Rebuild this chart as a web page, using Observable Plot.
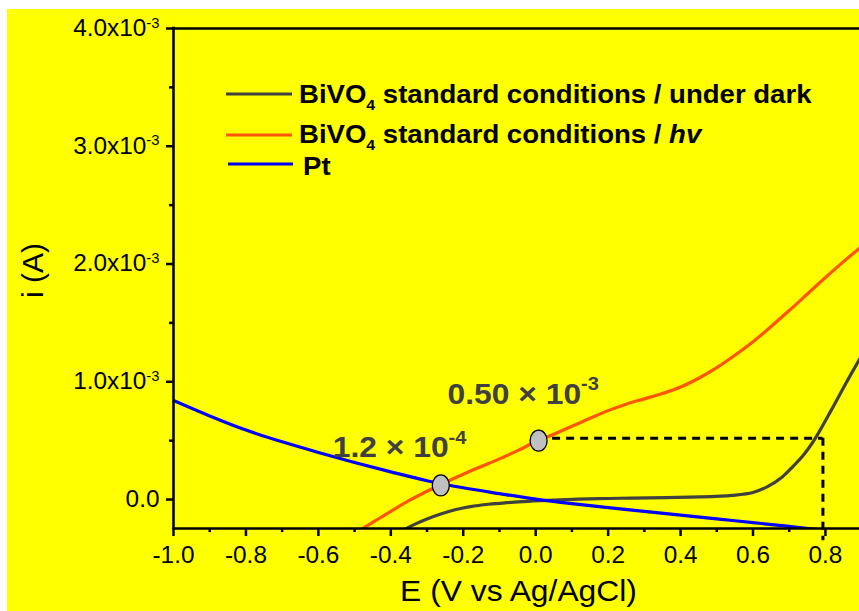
<!DOCTYPE html>
<html>
<head>
<meta charset="utf-8">
<script src="https://cdn.jsdelivr.net/npm/d3@7"></script>
<script src="https://cdn.jsdelivr.net/npm/@observablehq/plot@0.6"></script>
<style>
  html, body { margin: 0; padding: 0; background: #fff; }
  #chart { position: absolute; left: 7px; top: 9px; }
</style>
</head>
<body>
<div id="chart"></div>
<script>
// Linear sweep voltammograms: potential E (V vs Ag/AgCl) and current i (A)
const darkE = [-0.39, -0.366, -0.33, -0.30, -0.26, -0.22, -0.18, -0.13, -0.08, -0.02, 0.05, 0.176, 0.267, 0.361, 0.452, 0.543, 0.600, 0.640, 0.680, 0.710, 0.740, 0.774, 0.818, 0.857, 0.894];
const darkI = [-0.30e-3, -0.26e-3, -0.205e-3, -0.165e-3, -0.12e-3, -0.085e-3, -0.06e-3, -0.04e-3, -0.027e-3, -0.015e-3, -0.005e-3, 0.008e-3, 0.012e-3, 0.017e-3, 0.022e-3, 0.036e-3, 0.060e-3, 0.11e-3, 0.19e-3, 0.28e-3, 0.38e-3, 0.53e-3, 0.77e-3, 0.99e-3, 1.19e-3];

const hvE = [-0.52, -0.485, -0.44, -0.40, -0.35, -0.30, -0.25, -0.20, -0.15, -0.10, -0.05, 0.0, 0.05, 0.10, 0.15, 0.20, 0.25, 0.30, 0.35, 0.40, 0.45, 0.50, 0.55, 0.60, 0.65, 0.70, 0.75, 0.80, 0.85, 0.894];
const hvI = [-0.33e-3, -0.26e-3, -0.175e-3, -0.10e-3, -0.01e-3, 0.07e-3, 0.145e-3, 0.215e-3, 0.28e-3, 0.345e-3, 0.415e-3, 0.49e-3, 0.555e-3, 0.622e-3, 0.69e-3, 0.755e-3, 0.81e-3, 0.855e-3, 0.90e-3, 0.955e-3, 1.03e-3, 1.12e-3, 1.225e-3, 1.34e-3, 1.47e-3, 1.605e-3, 1.745e-3, 1.885e-3, 2.02e-3, 2.135e-3];

const ptE = [-1.0, -0.9, -0.8, -0.7, -0.6, -0.5, -0.4, -0.3, -0.2, -0.1, 0.0, 0.1, 0.2, 0.3, 0.4, 0.5, 0.6, 0.7, 0.8];
const ptI = [0.841e-3, 0.71e-3, 0.59e-3, 0.49e-3, 0.40e-3, 0.315e-3, 0.235e-3, 0.16e-3, 0.10e-3, 0.05e-3, 0.003e-3, -0.035e-3, -0.068e-3, -0.10e-3, -0.132e-3, -0.164e-3, -0.196e-3, -0.228e-3, -0.262e-3];

const seriesNames = ["BiVO_4 standard conditions / under dark", "BiVO_4 standard conditions / *hv*", "Pt"];
const seriesColors = ["#404040", "#ff5500", "#0000ff"];

// Marked operating points and their labels
const markedE = [-0.262, 0.008];
const markedI = [1.2e-4, 0.50e-3];
const markedLabels = ["1.2 × 10^-4", "0.50 × 10^-3"];

// Dashed guide from the photocurrent point to the dark onset at 0.8 V
const guideI = 0.52e-3;
const guideE = 0.793;
const guideBottom = -0.35e-3;

// Axes
const xDomain = [-1.0, 0.894];
const yDomain = [-0.246e-3, 4.0e-3];
const xTicks = [-1.0, -0.8, -0.6, -0.4, -0.2, 0.0, 0.2, 0.4, 0.6, 0.8];
const xMinorTicks = [-0.9, -0.7, -0.5, -0.3, -0.1, 0.1, 0.3, 0.5, 0.7];
const yTicks = [0, 1.0e-3, 2.0e-3, 3.0e-3, 4.0e-3];
const yTickLabels = ["0.0", "1.0x10^-3", "2.0x10^-3", "3.0x10^-3", "4.0x10^-3"];
const yMinorTicks = [0.5e-3, 1.5e-3, 2.5e-3, 3.5e-3];
const xLabel = "E (V vs Ag/AgCl)";
const yLabel = "i (A)";

const rows = (E, I) => E.map((e, k) => ({E: e, I: I[k]}));
const marked = markedE.map((e, k) => ({E: e, I: markedI[k], label: markedLabels[k]}));

// Filled ellipse used for the marked points
const ellipse = {
  draw(context) {
    const rx = 8.5, ry = 10.5, k = 0.5523;
    context.moveTo(rx, 0);
    context.bezierCurveTo(rx, ry * k, rx * k, ry, 0, ry);
    context.bezierCurveTo(-rx * k, ry, -rx, ry * k, -rx, 0);
    context.bezierCurveTo(-rx, -ry * k, -rx * k, -ry, 0, -ry);
    context.bezierCurveTo(rx * k, -ry, rx, -ry * k, rx, 0);
    context.closePath();
  }
};

const lineOpts = (color) => ({x: "E", y: "I", stroke: color, strokeWidth: 3.2, curve: "catmull-rom", clip: true});

const plot = Plot.plot({
  width: 852,
  height: 602,
  marginLeft: 166,
  marginRight: 0,
  marginTop: 19,
  marginBottom: 83,
  x: {domain: xDomain},
  y: {domain: yDomain},
  style: {
    background: "#ffff00",
    color: "#000",
    fontFamily: "'Liberation Sans', Arial, sans-serif",
    fontSize: "23px",
    overflow: "visible"
  },
  marks: [
    Plot.line(rows(darkE, darkI), lineOpts(seriesColors[0])),
    Plot.line(rows(hvE, hvI), lineOpts(seriesColors[1])),
    Plot.line(rows(ptE, ptI), lineOpts(seriesColors[2])),
    Plot.ruleY([{y: guideI, x1: markedE[1], x2: guideE}], {y: "y", x1: "x1", x2: "x2", stroke: "#000", strokeWidth: 3, strokeDasharray: "8,6"}),
    Plot.ruleX([{x: guideE, y1: guideI, y2: guideBottom}], {x: "x", y1: "y1", y2: "y2", stroke: "#000", strokeWidth: 3, strokeDasharray: "8,6"}),
    Plot.dot(marked, {x: "E", y: "I", symbol: ellipse, fill: "#c0c0c0", stroke: "#000", strokeWidth: 1.3}),
    Plot.text([marked[0]], {x: "E", y: "I", text: "label", textAnchor: "start", lineAnchor: "middle", dx: -108, dy: -37.6, fontSize: 30, fontWeight: "bold", fill: "#404040"}),
    Plot.text([marked[1]], {x: "E", y: "I", text: "label", textAnchor: "start", lineAnchor: "middle", dx: -91, dy: -46.6, fontSize: 30, fontWeight: "bold", fill: "#404040"}),
    // frame: left, bottom and top edges
    Plot.ruleX([xDomain[0]], {stroke: "#000", strokeWidth: 2.6, strokeLinecap: "square"}),
    Plot.ruleY([yDomain[0]], {stroke: "#000", strokeWidth: 2.6}),
    Plot.ruleY([yDomain[1]], {stroke: "#000", strokeWidth: 2.6}),
    Plot.axisX({ticks: xTicks, tickSize: 8, tickPadding: 10, tickFormat: d => d.toFixed(1), strokeWidth: 2.5, label: null}),
    Plot.axisX({ticks: xMinorTicks, tickSize: 4, tickFormat: () => "", strokeWidth: 2.5, label: null}),
    Plot.axisY({ticks: yTicks, tickSize: 7, tickPadding: 7, tickFormat: d => yTickLabels[yTicks.indexOf(d)], strokeWidth: 2.5, label: null}),
    Plot.axisY({ticks: yMinorTicks, tickSize: 4, tickFormat: () => "", strokeWidth: 2.5, label: null}),
    Plot.text([xLabel], {frameAnchor: "bottom", textAnchor: "middle", lineAnchor: "middle", dy: 62.4, dx: 2, fontSize: 30}),
    Plot.text([yLabel], {frameAnchor: "left", textAnchor: "middle", lineAnchor: "middle", rotate: -90, dx: -140, dy: -8, fontSize: 30})
  ]
});

document.getElementById("chart").appendChild(plot);
const svg = d3.select(plot);

// Exponents written as "^" become raised tspans
svg.selectAll("text").each(function () {
  const s = this.textContent;
  if (!s.includes("^")) return;
  const [base, sup] = s.split("^");
  const f = parseFloat(getComputedStyle(this).fontSize);
  const big = f > 25;
  const t = d3.select(this).text(null);
  t.append("tspan").text(base);
  t.append("tspan")
    .attr("font-size", Math.round(f * 0.63))
    .attr("dy", -(big ? 0.46 : 0.36) * f)
    .text(sup);
});

// Legend
const legendLineY = [85, 126, 155];
const legendTextY = [94, 134, 166];
const legendTextX = [292, 292, 296];
const legendLineX = [[219, 285], [219, 285], [221, 286]];

function richText(sel, s) {
  const re = /(_\d)|(\*[^*]+\*)|([^_*]+)/g;
  let m, shift = 0;
  while ((m = re.exec(s))) {
    if (m[1]) {
      sel.append("tspan").attr("font-size", 15).attr("dy", 7).text(m[1].slice(1));
      shift = 7;
    } else if (m[2]) {
      sel.append("tspan").attr("font-style", "italic").attr("dy", shift ? -shift : null).text(m[2].slice(1, -1));
      shift = 0;
    } else {
      sel.append("tspan").attr("dy", shift ? -shift : null).text(m[3]);
      shift = 0;
    }
  }
}

const legend = svg.append("g")
  .attr("font-weight", "bold")
  .attr("font-size", 26)
  .attr("text-anchor", "start")
  .attr("fill", "#000");

seriesNames.forEach((name, k) => {
  legend.append("line")
    .attr("x1", legendLineX[k][0]).attr("x2", legendLineX[k][1])
    .attr("y1", legendLineY[k]).attr("y2", legendLineY[k])
    .attr("stroke", seriesColors[k]).attr("stroke-width", 3);
  const t = legend.append("text").attr("x", legendTextX[k]).attr("y", legendTextY[k]);
  richText(t, name);
});

// Horizontal text proportions of the original figure are slightly wider
const sx = 1.06;
svg.selectAll("text").each(function () {
  const tr = this.getAttribute("transform") || "";
  if (/rotate/.test(tr)) return;
  const xa = this.getAttribute("x"), ya = this.getAttribute("y");
  let x = 0, y = 0;
  if (xa !== null && xa !== "" && isFinite(+xa)) { x = +xa; this.removeAttribute("x"); }
  if (ya !== null && ya !== "" && isFinite(+ya)) { y = +ya; this.removeAttribute("y"); }
  this.setAttribute("transform", `${tr} translate(${x},${y}) scale(${sx},1)`);
});
</script>
</body>
</html>
